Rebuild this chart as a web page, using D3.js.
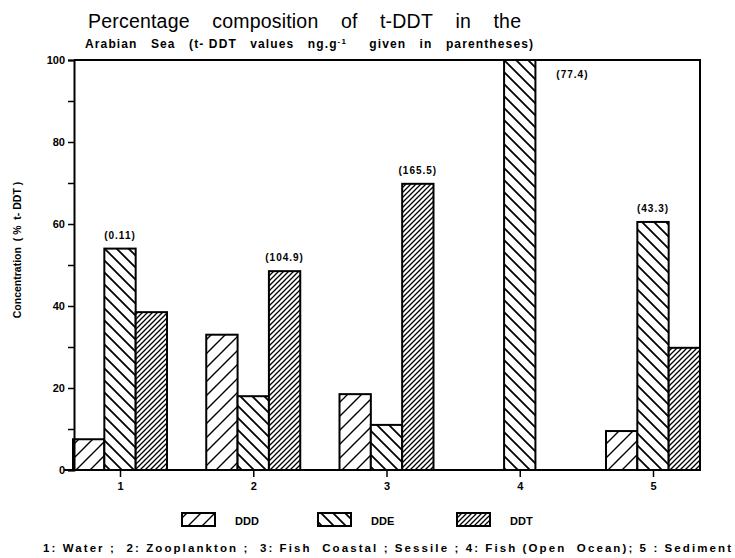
<!DOCTYPE html>
<html>
<head>
<meta charset="utf-8">
<script src="https://cdn.jsdelivr.net/npm/d3@7"></script>
<style>
  body { margin: 0; background: #fff; }
  svg { font-family: "Liberation Sans", Arial, sans-serif; }
</style>
</head>
<body>
<div class="vis-bars"></div>
<script>
// data
const groups = ['1', '2', '3', '4', '5'];
const series = ['DDD', 'DDE', 'DDT'];
const dddValues = [7.5, 33, 18.5, 0, 9.5];
const ddeValues = [54, 18, 11, 100, 60.5];
const ddtValues = [38.5, 48.5, 69.8, 0, 29.8];
const totals = ['(0.11)', '(104.9)', '(165.5)', '(77.4)', '(43.3)'];
const totalOn = ['DDE', 'DDT', 'DDT', 'right', 'DDE'];
const yTicks = [0, 10, 20, 30, 40, 50, 60, 70, 80, 90, 100];

const width = 735, height = 558;
const margin = {top: 60, right: 35, bottom: 88, left: 74};

// keep runs of spaces visible in svg text
const nb = s => s.replace(/ /g, '\u00A0');

const svg = d3.select('.vis-bars').append('svg')
    .attr('width', width)
    .attr('height', height);

// hatch patterns
const defs = svg.append('defs');
const hatch = (id, s, dir, sw) => {
    const p = defs.append('pattern')
        .attr('id', id)
        .attr('patternUnits', 'userSpaceOnUse')
        .attr('width', s)
        .attr('height', s);
    p.append('rect').attr('width', s).attr('height', s).attr('fill', 'white');
    const d = dir > 0
        ? `M0,${s} L${s},0 M${-s/2},${s/2} L${s/2},${-s/2} M${s/2},${s*1.5} L${s*1.5},${s/2}`
        : `M0,0 L${s},${s} M${-s/2},${s/2} L${s/2},${s*1.5} M${s/2},${-s/2} L${s*1.5},${s/2}`;
    p.append('path').attr('d', d).attr('stroke', 'black').attr('stroke-width', sw);
};
hatch('pat-DDD', 14, 1, 1.4);
hatch('pat-DDE', 12, -1, 1.8);
hatch('pat-DDT', 5, 1, 1.3);

const y = d3.scaleLinear()
    .domain([0, 100])
    .range([height - margin.bottom, margin.top]);

const x = d3.scalePoint()
    .domain(groups)
    .range([120, 653]);

const xs = d3.scaleBand()
    .domain(series)
    .range([-47, 47]);

const rows = groups.map((g, i) => ({
    group: g,
    DDD: dddValues[i],
    DDE: ddeValues[i],
    DDT: ddtValues[i],
    total: totals[i],
    on: totalOn[i]
}));

// bars
const g = svg.append('g');
rows.forEach(r => {
    series.forEach(s => {
        if (r[s] <= 0) return;
        g.append('rect')
            .attr('x', x(r.group) + xs(s))
            .attr('y', y(r[s]))
            .attr('width', xs.bandwidth())
            .attr('height', y(0) - y(r[s]))
            .attr('fill', `url(#pat-${s})`)
            .attr('stroke', 'black')
            .attr('stroke-width', 2);
    });
    // totals in parentheses
    let tx, ty;
    if (r.on === 'right') {
        tx = x(r.group) + xs('DDE') + xs.bandwidth() + 37;
        ty = y(95.5);
    } else {
        tx = x(r.group) + xs(r.on) + xs.bandwidth() / 2;
        ty = y(r[r.on]) - 10;
    }
    g.append('text')
        .attr('x', tx)
        .attr('y', ty)
        .attr('text-anchor', 'middle')
        .style('font-size', '10px')
        .style('font-weight', 'bold')
        .style('letter-spacing', '1px')
        .text(r.total);
});

// frame: top and right
svg.append('path')
    .attr('d', `M${margin.left},${y(100)} H${width - margin.right} V${y(0)}`)
    .attr('fill', 'none')
    .attr('stroke', 'black')
    .attr('stroke-width', 2);

// y axis
const yAxis = svg.append('g')
    .attr('transform', `translate(${margin.left},0)`)
    .call(d3.axisLeft(y).tickValues(yTicks).tickSize(6).tickPadding(3)
        .tickFormat(d => d % 20 === 0 ? d : ''));
yAxis.select('.domain').attr('stroke-width', 2);
yAxis.selectAll('.tick line').attr('stroke-width', 1.5);
yAxis.selectAll('text')
    .style('font-size', '11px')
    .style('font-weight', 'bold')
    .style('font-family', '"Liberation Sans", Arial, sans-serif');

// x axis
const xAxis = svg.append('g')
    .attr('transform', `translate(0,${y(0)})`)
    .call(d3.axisBottom(x).tickSize(7).tickPadding(5));
xAxis.select('.domain').remove();
xAxis.append('line')
    .attr('x1', 64).attr('x2', width - margin.right)
    .attr('stroke', 'black').attr('stroke-width', 2);
xAxis.selectAll('.tick line').attr('stroke-width', 1.5);
xAxis.selectAll('text')
    .style('font-size', '11px')
    .style('font-weight', 'bold')
    .style('font-family', '"Liberation Sans", Arial, sans-serif');

// titles
svg.append('text')
    .attr('x', 88).attr('y', 28)
    .attr('textLength', 433)
    .attr('lengthAdjust', 'spacing')
    .style('font-size', '19.5px')
    .text(nb('Percentage    composition    of    t-DDT    in    the'));

const sub = svg.append('text')
    .attr('x', 85).attr('y', 48)
    .attr('textLength', 448)
    .attr('lengthAdjust', 'spacing')
    .style('font-size', '12px')
    .style('font-weight', 'bold');
sub.append('tspan').text(nb('Arabian   Sea   (t- DDT   values   ng.g'));
sub.append('tspan').attr('dy', -4).style('font-size', '8px').text('-1');
sub.append('tspan').attr('dy', 4).text(nb('     given   in   parentheses)'));

svg.append('text')
    .attr('transform', `translate(21,${(y(100) + y(0)) / 2 - 15}) rotate(-90)`)
    .attr('text-anchor', 'middle')
    .style('font-size', '10.5px')
    .style('font-weight', 'bold')
    .text(nb('Concentration  ( %  t- DDT )'));

// legend
const legendX = [182, 318, 457];
const leg = svg.append('g');
series.forEach((s, i) => {
    leg.append('rect')
        .attr('x', legendX[i]).attr('y', 513)
        .attr('width', 33).attr('height', 13)
        .attr('fill', `url(#pat-${s})`)
        .attr('stroke', 'black').attr('stroke-width', 2);
    leg.append('text')
        .attr('x', legendX[i] + 53).attr('y', 525)
        .style('font-size', '11px')
        .style('font-weight', 'bold')
        .text(s);
});

svg.append('text')
    .attr('x', 43).attr('y', 552)
    .attr('textLength', 688)
    .attr('lengthAdjust', 'spacing')
    .style('font-size', '11.5px')
    .style('font-weight', 'bold')
    .text(nb('1: Water ;  2: Zooplankton ;  3: Fish  Coastal ; Sessile ; 4: Fish (Open  Ocean); 5 : Sediment'));
</script>
</body>
</html>
